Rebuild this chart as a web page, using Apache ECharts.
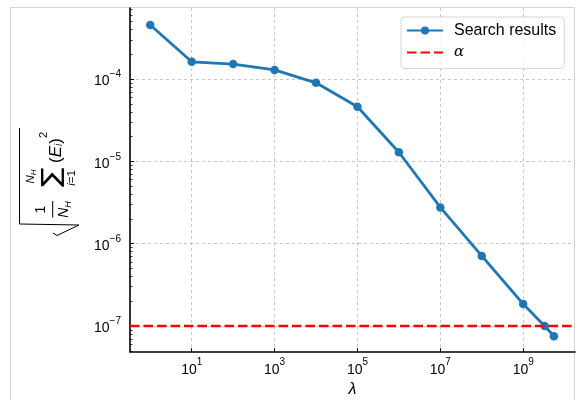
<!DOCTYPE html>
<html>
<head>
<meta charset="utf-8">
<script src="https://cdn.jsdelivr.net/npm/echarts@6/dist/echarts.min.js"></script>
<style>
  html, body { margin: 0; padding: 0; background: #fff; }
  #chart { width: 585px; height: 400px; }
</style>
</head>
<body>
<div id="chart"></div>
<script>
// Regularisation weights λ used in the search
const lambdas = [1, 10, 100, 1e3, 1e4, 1e5, 1e6, 1e7, 1e8, 1e9, 3.3e9, 5.5e9];
// RMS error of the search results for each λ
const rmsError = [4.53e-4, 1.62e-4, 1.52e-4, 1.29e-4, 9.0e-5, 4.6e-5, 1.29e-5, 2.76e-6, 7.1e-7, 1.85e-7, 1.0e-7, 7.5e-8];
// Tolerance α
const alpha = 1e-7;

// Labelled ticks
const xTicks = [1e1, 1e3, 1e5, 1e7, 1e9];
const yTicks = [1e-7, 1e-6, 1e-5, 1e-4];

// Axis limits (log10 of the visible range)
const xLogRange = [-0.489, 10.25];
const yLogRange = [-7.312, -3.137];

const xMin = Math.pow(10, xLogRange[0]), xMax = Math.pow(10, xLogRange[1]);
const yMin = Math.pow(10, yLogRange[0]), yMax = Math.pow(10, yLogRange[1]);

// minor ticks 2..9 × 10^k inside the y range
const yMinorTicks = [];
for (let k = -8; k <= -3; k++) {
  for (let m = 2; m <= 9; m++) {
    const v = m * Math.pow(10, k);
    if (v > yMin && v < yMax) yMinorTicks.push(v);
  }
}

const FONT = 'Liberation Sans';
const BLUE = '#1f77b4';
const RED = '#ff0000';
const RED_DASH = { color: RED, width: 2.6, type: [9.5, 4] };

function powLabel(v) {
  const e = Math.round(Math.log10(v));
  const s = e < 0 ? '\u2212' + (-e) : String(e);
  return '{b|10}{s|' + s + '}';
}
const powRich = {
  b: { fontFamily: FONT, fontSize: 14, lineHeight: 19, verticalAlign: 'bottom', color: '#000' },
  s: { fontFamily: FONT, fontSize: 10, lineHeight: 10, verticalAlign: 'top', color: '#000' }
};

const gridLine = { show: true, lineStyle: { color: '#b8b8b8', width: 0.8, type: [3, 3] } };

const chart = echarts.init(document.getElementById('chart'), null, { renderer: 'canvas' });

// y-axis title: sqrt( 1/N_H * sum_{i=1}^{N_H} (E_i)^2 ), drawn rotated
const ROT = Math.PI / 2;
function titleText(x, y, text, style, extra) {
  return Object.assign({
    type: 'text', x: x, y: y, rotation: ROT, silent: true,
    style: Object.assign({ text: text, fill: '#000', align: 'center', verticalAlign: 'middle', fontFamily: FONT }, style)
  }, extra || {});
}

const ylabelGraphics = [
  // radical sign with its bar
  { type: 'polyline', silent: true,
    shape: { points: [[19.5, 128], [19.5, 224], [79, 225], [57, 235.5], [53, 233]] },
    style: { stroke: '#000', lineWidth: 1, fill: null } },
  // fraction bar
  { type: 'line', silent: true, shape: { x1: 52.7, y1: 201, x2: 52.7, y2: 217.5 },
    style: { stroke: '#000', lineWidth: 1 } },
  titleText(41.5, 209.5, '1', { fontSize: 14 }),
  titleText(65, 209.5, '{n|N}{h|H}', { rich: {
    n: { fontFamily: FONT, fontSize: 14, fontStyle: 'italic', lineHeight: 16, verticalAlign: 'top' },
    h: { fontFamily: FONT, fontSize: 9, fontStyle: 'italic', lineHeight: 9, verticalAlign: 'bottom' }
  } }),
  titleText(52, 177, '\u2211', { fontFamily: 'DejaVu Sans', fontSize: 25 }, { scaleX: 1.15 }),
  titleText(31.5, 176.5, '{n|N}{h|H}', { rich: {
    n: { fontFamily: FONT, fontSize: 11.5, fontStyle: 'italic', lineHeight: 13, verticalAlign: 'top' },
    h: { fontFamily: FONT, fontSize: 8, fontStyle: 'italic', lineHeight: 8, verticalAlign: 'bottom' }
  } }),
  titleText(72, 178, '{i|i}{t|=1}', { rich: {
    i: { fontFamily: FONT, fontSize: 11.5, fontStyle: 'italic' },
    t: { fontFamily: FONT, fontSize: 11.5 }
  } }),
  titleText(51.5, 147.5, '{p|(}{e|E}{i|i}{p|)}{s|2}', { rich: {
    p: { fontFamily: FONT, fontSize: 17, lineHeight: 26, verticalAlign: 'bottom' },
    e: { fontFamily: FONT, fontSize: 17, fontStyle: 'italic', lineHeight: 26, verticalAlign: 'bottom' },
    i: { fontFamily: FONT, fontSize: 10, fontStyle: 'italic', lineHeight: 12, verticalAlign: 'bottom' },
    s: { fontFamily: FONT, fontSize: 11, lineHeight: 12, verticalAlign: 'top' }
  } })
];

const option = {
  animation: false,
  backgroundColor: '#fff',
  grid: { left: 130, right: 10, top: 8, bottom: 48.3, containLabel: false, outerBoundsMode: 'none' },
  legend: {
    left: 401, top: 17,
    orient: 'vertical',
    itemWidth: 36, itemHeight: 10, itemGap: 6.6,
    padding: [5.5, 8, 8.5, 5],
    backgroundColor: 'rgba(255,255,255,0.8)',
    borderColor: '#d6d6d6', borderWidth: 1, borderRadius: 4,
    textStyle: { fontFamily: FONT, fontSize: 16, color: '#000', padding: [0, 0, 0, 6],
      rich: { a: { fontFamily: 'DejaVu Serif', fontStyle: 'italic', fontSize: 15, color: '#000' } } },
    formatter: name => name === '\u03b1' ? '{a|\u03b1}' : name,
    data: [
      { name: 'Search results' },
      { name: '\u03b1', itemStyle: { opacity: 0 } }
    ]
  },
  xAxis: {
    type: 'log', min: xMin, max: xMax,
    name: '\u03bb', nameLocation: 'middle', nameGap: 30,
    nameTextStyle: { fontFamily: FONT, fontStyle: 'italic', fontSize: 16, color: '#000' },
    axisLine: { show: true, lineStyle: { color: '#000', width: 1.6 } },
    axisTick: { show: true, inside: true, length: 3.5, lineStyle: { color: '#000', width: 1 }, customValues: xTicks },
    axisLabel: { margin: 6, formatter: powLabel, rich: powRich, customValues: xTicks },
    splitLine: gridLine,
    minorTick: { show: false }, minorSplitLine: { show: false }
  },
  yAxis: [{
    type: 'log', min: yMin, max: yMax,
    axisLine: { show: true, lineStyle: { color: '#000', width: 1.6 } },
    axisTick: { show: true, inside: true, length: 4, lineStyle: { color: '#000', width: 1 }, customValues: yTicks },
    axisLabel: { margin: 9, formatter: powLabel, rich: powRich, customValues: yTicks },
    splitLine: gridLine
  }, {
    // minor ticks only
    type: 'log', min: yMin, max: yMax, position: 'left',
    axisLine: { show: false },
    axisTick: { show: true, inside: true, length: 2.5, lineStyle: { color: '#000', width: 0.8 }, customValues: yMinorTicks },
    axisLabel: { show: false },
    splitLine: { show: false }
  }],
  series: [{
    name: 'Search results',
    type: 'line',
    data: lambdas.map((x, i) => [x, rmsError[i]]),
    symbol: 'circle', symbolSize: 8.5,
    lineStyle: { color: BLUE, width: 2.8 },
    itemStyle: { color: BLUE },
    z: 3
  }, {
    // tolerance α, spanning the full x range of the plot
    name: '\u03b1',
    type: 'line',
    data: [[xMin, alpha], [xMax, alpha]],
    symbol: 'none',
    lineStyle: RED_DASH,
    itemStyle: { color: RED },
    z: 4
  }],
  graphic: [
    { type: 'rect', silent: true, z: -10,
      shape: { x: 10.5, y: 7.5, width: 564, height: 400 },
      style: { fill: null, stroke: '#d4d4d4', lineWidth: 1 } }
  ].concat(ylabelGraphics)
};

chart.setOption(option);
</script>
</body>
</html>
